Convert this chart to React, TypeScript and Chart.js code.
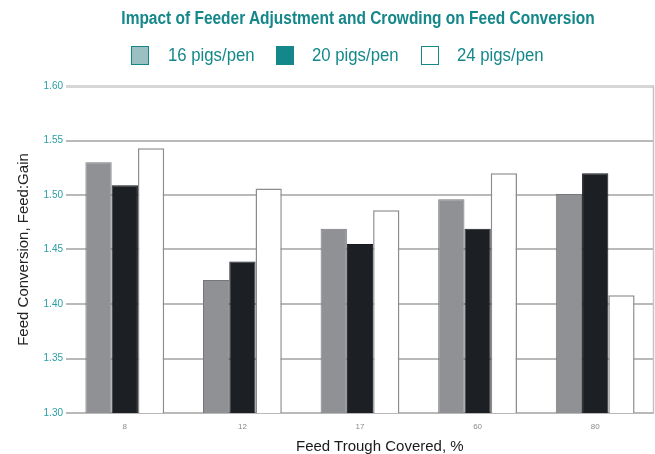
import React, { useEffect, useRef } from "react";
import { Chart, registerables } from "chart.js";

Chart.register(...registerables);

// Feed trough coverage categories (%)
const coverage = ["8", "12", "17", "60", "80"];

// Feed conversion (feed:gain) by stocking density
const pigs16 = [1.53, 1.422, 1.469, 1.496, 1.501];
const pigs20 = [1.509, 1.439, 1.455, 1.469, 1.52];
const pigs24 = [1.543, 1.506, 1.486, 1.52, 1.408];

const seriesNames = ["16 pigs/pen", "20 pigs/pen", "24 pigs/pen"];

const TEAL = "#14878a";
const SANS = "'Liberation Sans', Arial, sans-serif";

// Thin frame line on the right edge of the plot area
const rightEdge = {
  id: "rightEdge",
  afterDraw(chart: any) {
    const { ctx, chartArea } = chart;
    ctx.save();
    ctx.strokeStyle = "#c4c4c4";
    ctx.lineWidth = 1.5;
    ctx.beginPath();
    ctx.moveTo(chartArea.right - 0.5, chartArea.top);
    ctx.lineTo(chartArea.right - 0.5, chartArea.bottom);
    ctx.stroke();
    ctx.restore();
  },
};

const legendItems = [
  { fill: "#9cbfc2", border: TEAL, boxX: 131, textX: 168 },
  { fill: TEAL, border: TEAL, boxX: 276, textX: 312 },
  { fill: "#ffffff", border: TEAL, boxX: 421, textX: 457 },
];

export default function App() {
  const canvasRef = useRef<HTMLCanvasElement | null>(null);

  useEffect(() => {
    const canvas = canvasRef.current;
    if (!canvas) return;
    const chart = new Chart(canvas, {
      type: "bar",
      data: {
        labels: coverage,
        datasets: [
          {
            label: seriesNames[0],
            data: pigs16,
            backgroundColor: "#8f9195",
            borderColor: "#75777a",
            borderWidth: 1,
          },
          {
            label: seriesNames[1],
            data: pigs20,
            backgroundColor: "#1c1f24",
            borderColor: "#16191d",
            borderWidth: 1,
          },
          {
            label: seriesNames[2],
            data: pigs24,
            backgroundColor: "#ffffff",
            borderColor: "#8c8c8c",
            borderWidth: 1.5,
          },
        ],
      },
      options: {
        responsive: false,
        animation: false,
        layout: { padding: { top: 86, right: 1, left: 0, bottom: 0 } },
        datasets: {
          bar: { categoryPercentage: 0.67, barPercentage: 1 },
        },
        plugins: {
          legend: { display: false },
          title: { display: false },
          tooltip: { enabled: false },
        },
        scales: {
          x: {
            grid: { display: false },
            border: { display: false },
            ticks: {
              color: "#8a8a8a",
              font: { family: SANS, size: 8 },
              padding: 1,
            },
            afterFit: (scale: any) => {
              scale.height = 41;
            },
          },
          y: {
            min: 1.3,
            max: 1.6,
            ticks: {
              stepSize: 0.05,
              color: "#2a9ea3",
              font: { family: SANS, size: 10 },
              padding: 3,
              callback: (v: any) => Number(v).toFixed(2),
            },
            grid: {
              drawTicks: false,
              color: (c: any) => (c.index === 6 ? "#d6d6d6" : "#b9b9b9"),
              lineWidth: (c: any) => (c.index === 6 ? 3 : 2),
            },
            border: { display: false },
            title: {
              display: true,
              text: "Feed Conversion, Feed:Gain",
              color: "#222222",
              font: { family: SANS, size: 15 },
              padding: { top: 15, bottom: 0 },
            },
            afterFit: (scale: any) => {
              scale.width = 66;
            },
          },
        },
      },
      plugins: [rightEdge],
    });
    return () => chart.destroy();
  }, []);

  return (
    <div
      style={{
        position: "fixed",
        left: 0,
        top: 0,
        width: 655,
        height: 454,
        background: "#ffffff",
        overflow: "hidden",
      }}
    >
      <canvas ref={canvasRef} width={655} height={454} style={{ display: "block" }} />
      <div
        style={{
          position: "absolute",
          left: 0,
          top: 7,
          width: 716,
          textAlign: "center",
          fontFamily: SANS,
          fontWeight: "bold",
          fontSize: 18,
          lineHeight: "22px",
          color: TEAL,
          transform: "scaleX(0.86)",
          transformOrigin: "358px 0",
          whiteSpace: "nowrap",
        }}
      >
        Impact of Feeder Adjustment and Crowding on Feed Conversion
      </div>
      {legendItems.map((item, i) => (
        <React.Fragment key={seriesNames[i]}>
          <span
            style={{
              position: "absolute",
              left: item.boxX,
              top: 46,
              width: 16,
              height: 17,
              background: item.fill,
              border: `1.5px solid ${item.border}`,
            }}
          />
          <span
            style={{
              position: "absolute",
              left: item.textX,
              top: 44,
              fontFamily: SANS,
              fontSize: 18,
              lineHeight: "22px",
              color: TEAL,
              whiteSpace: "nowrap",
              transform: "scaleX(0.93)",
              transformOrigin: "0 0",
            }}
          >
            {seriesNames[i]}
          </span>
        </React.Fragment>
      ))}
      <div
        style={{
          position: "absolute",
          left: 296,
          top: 437,
          fontFamily: SANS,
          fontSize: 15,
          lineHeight: "18px",
          color: "#1a1a1a",
          whiteSpace: "nowrap",
        }}
      >
        Feed Trough Covered, %
      </div>
    </div>
  );
}
